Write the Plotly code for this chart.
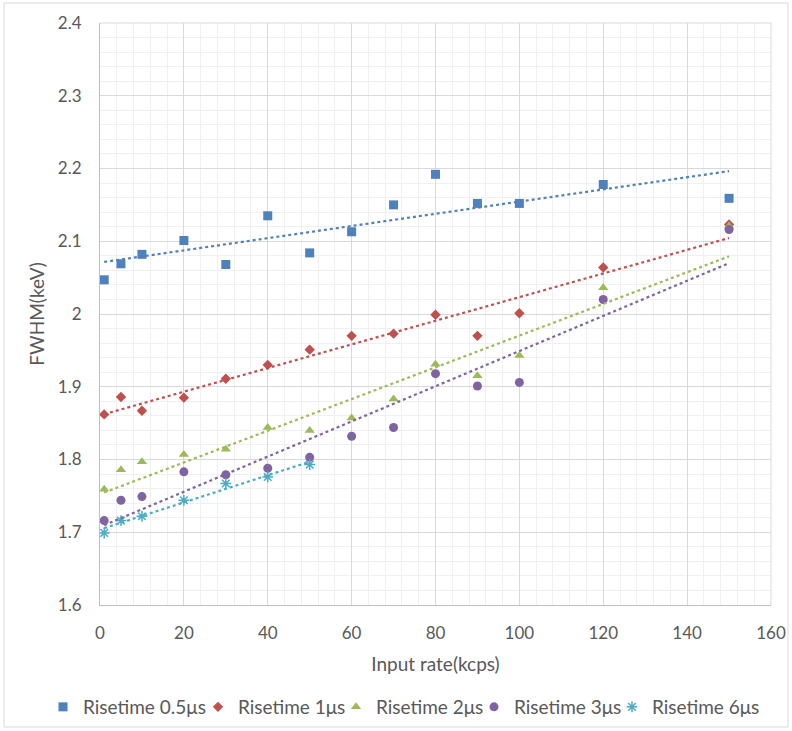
import numpy as np
import plotly.graph_objects as go

x_rate = [1, 5, 10, 20, 30, 40, 50, 60, 70, 80, 90, 100, 120, 150]
x_rate_6us = [1, 5, 10, 20, 30, 40, 50]

fwhm_05us = [2.047, 2.069, 2.082, 2.101, 2.068, 2.135, 2.084, 2.113, 2.150, 2.192, 2.152, 2.152, 2.178, 2.159]
fwhm_1us = [1.862, 1.886, 1.867, 1.885, 1.911, 1.930, 1.951, 1.970, 1.973, 1.999, 1.970, 2.001, 2.064, 2.123]
fwhm_2us = [1.759, 1.786, 1.797, 1.807, 1.814, 1.844, 1.840, 1.857, 1.883, 1.931, 1.915, 1.943, 2.036, 2.121]
fwhm_3us = [1.716, 1.744, 1.749, 1.783, 1.779, 1.788, 1.803, 1.832, 1.844, 1.918, 1.901, 1.906, 2.020, 2.116]
fwhm_6us = [1.699, 1.716, 1.722, 1.744, 1.767, 1.776, 1.793]

series_names = ["Risetime 0.5μs", "Risetime 1μs", "Risetime 2μs", "Risetime 3μs", "Risetime 6μs"]
y_ticks = [1.6, 1.7, 1.8, 1.9, 2.0, 2.1, 2.2, 2.3, 2.4]
y_tick_text = ["1.6", "1.7", "1.8", "1.9", "2", "2.1", "2.2", "2.3", "2.4"]
x_ticks = [0, 20, 40, 60, 80, 100, 120, 140, 160]

colors = ["#4F81BD", "#C0504D", "#9BBB59", "#8064A2", "#4BACC6"]
symbols = ["square", "diamond", "triangle-up", "circle", "asterisk-open"]
sizes = [9, 8, 9, 9, 9]
legend_widths = [110, 93, 93, 93, 110]

series = [
    (x_rate, fwhm_05us),
    (x_rate, fwhm_1us),
    (x_rate, fwhm_2us),
    (x_rate, fwhm_3us),
    (x_rate_6us, fwhm_6us),
]

FONT = "Lato"
TXT = "#595959"

fig = go.Figure()
for i, (xs, ys) in enumerate(series):
    fig.add_trace(go.Scatter(
        x=xs, y=ys, mode="markers", name=series_names[i],
        legendwidth=legend_widths[i],
        marker=dict(symbol=symbols[i], size=sizes[i], color=colors[i],
                    line=dict(width=1.5, color=colors[i]) if i == 4 else dict(width=0)),
    ))
for i, (xs, ys) in enumerate(series):
    k, b = np.polyfit(xs, ys, 1)
    xe = np.array([xs[0], xs[-1]])
    fig.add_trace(go.Scatter(
        x=xe, y=k * xe + b, mode="lines", showlegend=False, hoverinfo="skip",
        line=dict(color=colors[i], width=2.2, dash="dot"),
    ))

W, H = 792, 731
ml, mr, mt, mb = 100, 21, 23, 126
pw, ph = W - ml - mr, H - mt - mb

fig.update_layout(
    width=W, height=H,
    margin=dict(l=ml, r=mr, t=mt, b=mb, autoexpand=False),
    paper_bgcolor="white", plot_bgcolor="white",
    font=dict(family=FONT, color=TXT, size=16),
    showlegend=True,
    legend=dict(orientation="h", x=(43 - ml) / pw, xanchor="left",
                y=(mt + ph - 707) / ph, yanchor="middle",
                font=dict(size=19, color=TXT, family=FONT),
                tracegroupgap=0, itemwidth=30),
    xaxis=dict(
        range=[0, 160], tickvals=x_ticks, ticks="", ticklabelstandoff=13, automargin=False,
        showgrid=True, gridcolor="#D9D9D9", gridwidth=1,
        minor=dict(dtick=4, showgrid=True, gridcolor="#F0F0F0", gridwidth=1),
        showline=True, linecolor="#BFBFBF", linewidth=1,
        zeroline=False,
        title=dict(text="Input rate(kcps)", font=dict(size=19, color=TXT), standoff=15),
        tickfont=dict(size=17, color=TXT),
    ),
    yaxis=dict(
        range=[1.6, 2.4], tickvals=y_ticks, ticktext=y_tick_text, ticks="", ticklabelstandoff=14,
        automargin=False,
        showgrid=True, gridcolor="#D9D9D9", gridwidth=1,
        minor=dict(dtick=0.02, showgrid=True, gridcolor="#F0F0F0", gridwidth=1),
        showline=True, linecolor="#BFBFBF", linewidth=1,
        zeroline=False,
        title=dict(text="FWHM(keV)", font=dict(size=19, color=TXT), standoff=8),
        tickfont=dict(size=17, color=TXT),
    ),
)

# top and right boundary lines of the plot area (major grid colour)
fig.add_shape(type="line", xref="paper", yref="paper", x0=0, x1=1, y0=1, y1=1,
              line=dict(color="#D9D9D9", width=1))
fig.add_shape(type="line", xref="paper", yref="paper", x0=1, x1=1, y0=0, y1=1,
              line=dict(color="#D9D9D9", width=1))
# chart-area border
fig.add_shape(type="rect", xref="paper", yref="paper",
              x0=(4 - ml) / pw, x1=(W - 4 - ml) / pw,
              y0=(mt + ph - (H - 4)) / ph, y1=(mt + ph - 3) / ph,
              line=dict(color="#D9D9D9", width=1), fillcolor="rgba(0,0,0,0)")

fig.write_html("out.html",
               config={"displayModeBar": False},
               post_script="document.body.style.margin='0';document.body.style.overflow='hidden';")
